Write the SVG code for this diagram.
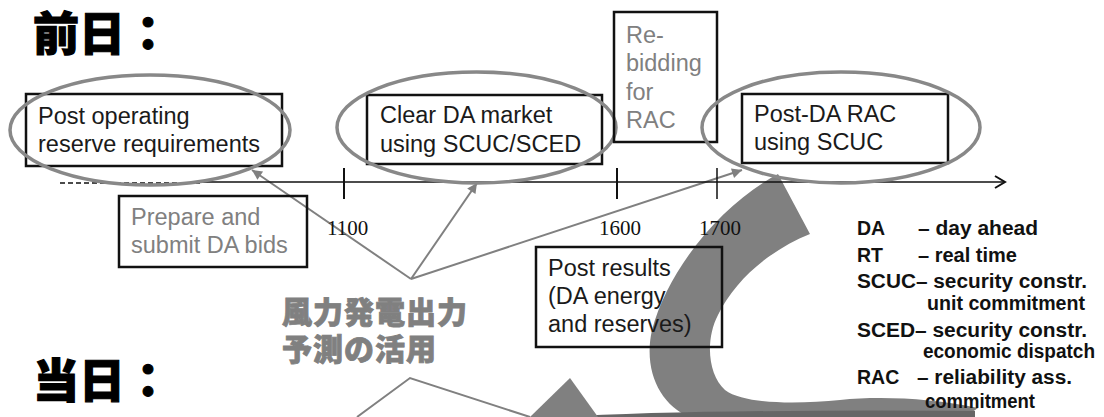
<svg xmlns="http://www.w3.org/2000/svg" width="1104" height="417" viewBox="0 0 1104 417">
<style>
.box{fill:none;stroke:#111;stroke-width:2.5}
.t{font-family:"Liberation Sans",Arial,sans-serif;font-size:23.5px;fill:#1a1a1a}
.tg{font-family:"Liberation Sans",Arial,sans-serif;font-size:23.5px;fill:#808080}
.ell{fill:none;stroke:#888;stroke-width:3.5}
.conn{fill:none;stroke:#808080;stroke-width:2}
.num{font-family:"Liberation Serif","Times New Roman",serif;font-size:21px;fill:#111}
.leg{font-family:"Liberation Sans",Arial,sans-serif;font-size:19.5px;font-weight:bold;fill:#111}
.title{font-family:"Noto Sans CJK JP",sans-serif;font-size:46px;font-weight:900;fill:#000;stroke:#000;stroke-width:1.2}
.jp{font-family:"Noto Sans CJK JP",sans-serif;font-size:30px;font-weight:900;fill:#808080;stroke:#808080;stroke-width:0.8;letter-spacing:1px}
</style>
<defs>
<marker id="ah" viewBox="0 0 10 10" refX="10" refY="5" markerWidth="6" markerHeight="5" orient="auto" markerUnits="strokeWidth">
<path d="M0,0 L10,5 L0,10 Z" fill="#808080"/>
</marker>
</defs>

<g id="big-arrow">
<path d="M778,174 C720,205 668,270 652,330 C643,370 660,405 690,417 L965,417 L978,408 C930,398 880,396 840,400 C800,404 745,405 725,390 C708,375 705,340 718,315 C735,280 770,250 810,234 Z" fill="#808080"/>
<path d="M560,417 Q700,409 975,411 L975,417 Z" fill="#666"/>
<path d="M570,378 L530,417 L598,417 Z" fill="#808080"/>
</g>

<g id="titles">
<text class="title" x="33" y="50">前日：</text>
<text class="title" x="33" y="397">当日：</text>
</g>

<g id="connectors">
<line class="conn" x1="411" y1="279" x2="252" y2="170" marker-end="url(#ah)"/>
<line class="conn" x1="411" y1="279" x2="477" y2="183" marker-end="url(#ah)"/>
<line class="conn" x1="411" y1="279" x2="742" y2="170" marker-end="url(#ah)"/>
<polyline class="conn" points="357,417 410,378 530,417"/>
</g>

<g id="axis">
<line x1="60" y1="183" x2="200" y2="183" stroke="#111" stroke-width="1.5" stroke-dasharray="5,3"/>
<line x1="200" y1="182" x2="1004" y2="182" stroke="#111" stroke-width="1.5"/>
<polyline points="995,176 1005,182 995,188" fill="none" stroke="#111" stroke-width="2"/>
<line x1="344" y1="168" x2="344" y2="199" stroke="#111" stroke-width="2"/>
<line x1="617" y1="168" x2="617" y2="199" stroke="#111" stroke-width="2"/>
<line x1="717" y1="168" x2="717" y2="199" stroke="#111" stroke-width="1.5"/>
<text class="num" x="327" y="235">1100</text>
<text class="num" x="599" y="235">1600</text>
<text class="num" x="699" y="235">1700</text>
</g>

<g id="node-post-operating">
<rect class="box" x="26" y="94" width="256" height="72"/>
<text class="t" x="38" y="124">Post operating</text>
<text class="t" x="38" y="152">reserve requirements</text>
<ellipse class="ell" cx="150" cy="130" rx="140" ry="55"/>
</g>

<g id="node-clear-da">
<rect class="box" x="367" y="95" width="235" height="69"/>
<text class="t" x="380" y="123">Clear DA market</text>
<text class="t" x="380" y="152">using SCUC/SCED</text>
<ellipse class="ell" cx="476.5" cy="127.5" rx="139.5" ry="55.5"/>
</g>

<g id="node-rebidding">
<rect class="box" x="614" y="12" width="103" height="130"/>
<text class="tg" x="626" y="43">Re-</text>
<text class="tg" x="626" y="71">bidding</text>
<text class="tg" x="626" y="100">for</text>
<text class="tg" x="626" y="128">RAC</text>
</g>

<g id="node-post-da-rac">
<rect class="box" x="742" y="94" width="206" height="69"/>
<text class="t" x="754" y="122">Post-DA RAC</text>
<text class="t" x="754" y="150">using SCUC</text>
<ellipse class="ell" cx="841" cy="127.5" rx="139" ry="55.5"/>
</g>

<g id="node-prepare">
<rect class="box" x="119" y="196" width="188" height="71"/>
<text class="tg" x="131" y="225">Prepare and</text>
<text class="tg" x="131" y="253">submit DA bids</text>
</g>

<g id="node-post-results">
<rect class="box" x="536" y="247" width="186" height="100"/>
<text class="t" x="548" y="276">Post results</text>
<text class="t" x="548" y="304">(DA energy</text>
<text class="t" x="548" y="332">and reserves)</text>
</g>

<g id="node-wind-label">
<text class="jp" x="282" y="323">風力発電出力</text>
<text class="jp" x="282" y="360">予測の活用</text>
</g>

<g id="legend">
<text class="leg" x="857" y="235">DA</text>
<text class="leg" x="918" y="235" textLength="120" lengthAdjust="spacingAndGlyphs">– day ahead</text>
<text class="leg" x="857" y="262">RT</text>
<text class="leg" x="918" y="262" textLength="99" lengthAdjust="spacingAndGlyphs">– real time</text>
<text class="leg" x="857" y="288" textLength="230" lengthAdjust="spacingAndGlyphs">SCUC– security constr.</text>
<text class="leg" x="927" y="310" textLength="158" lengthAdjust="spacingAndGlyphs">unit commitment</text>
<text class="leg" x="857" y="337" textLength="230" lengthAdjust="spacingAndGlyphs">SCED– security constr.</text>
<text class="leg" x="923" y="358" textLength="172" lengthAdjust="spacingAndGlyphs">economic dispatch</text>
<text class="leg" x="857" y="384">RAC</text>
<text class="leg" x="917" y="384" textLength="155" lengthAdjust="spacingAndGlyphs">– reliability ass.</text>
<text class="leg" x="925" y="408" textLength="110" lengthAdjust="spacingAndGlyphs">commitment</text>
</g>
</svg>
